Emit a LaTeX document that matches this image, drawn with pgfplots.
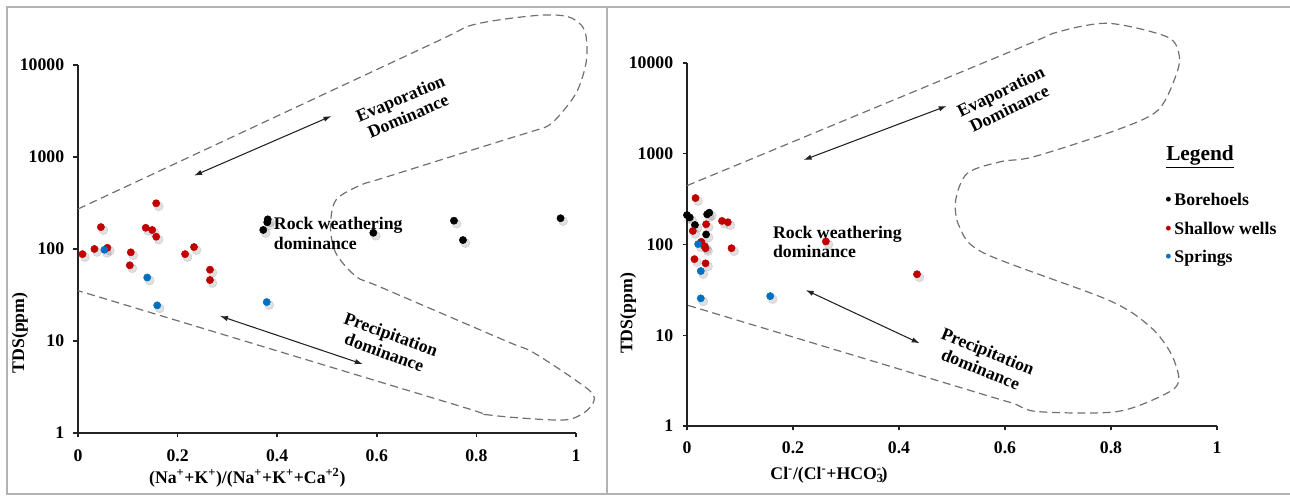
\documentclass[border=0pt]{standalone}
\usepackage{fontspec}
\setmainfont{Liberation Serif}
\usepackage{pgfplots}
\usepackage{pgfplotstable}
\pgfplotsset{compat=1.18}
\usetikzlibrary{arrows.meta}

\newlength\px
\setlength\px{0.75pt}
\newcommand\lbl{\fontsize{13.3}{14.5}\selectfont\bfseries}

\definecolor{bore}{HTML}{000000}
\definecolor{shallow}{HTML}{C00000}
\definecolor{spring}{HTML}{0070C0}
\definecolor{axisc}{HTML}{222222}
\definecolor{envc}{HTML}{707070}

% left panel: (Na+K)/(Na+K+Ca) vs TDS
\pgfplotstableread{
x y
0.372 161
0.380 195
0.381 210
0.593 150
0.755 203
0.773 125
0.969 216
}\Lbore
\pgfplotstableread{
x y
0.009 88
0.033 100
0.046 173
0.059 103
0.104 66.5
0.106 92
0.136 170
0.149 161
0.157 136
0.157 314
0.215 88
0.233 105
0.265 59.6
0.265 46
}\Lshallow
\pgfplotstableread{
x y
0.053 98
0.139 49
0.159 24.4
0.379 26.5
}\Lspring

% right panel: Cl/(Cl+HCO3) vs TDS
\pgfplotstableread{
x y
0.000 211
0.005 199
0.015 164
0.036 129
0.038 215
0.042 224
}\Rbore
\pgfplotstableread{
x y
0.016 325
0.011 141
0.036 167
0.066 182
0.077 176
0.027 107
0.033 96
0.035 91
0.084 91
0.014 69
0.035 62
0.262 108
0.434 47
}\Rshallow
\pgfplotstableread{
x y
0.021 101
0.026 51
0.026 25.5
0.157 27
}\Rspring

\tikzset{
  arr/.style={draw=axisc, line width=0.8pt,
    {Latex[length=6pt,width=4pt]}-{Latex[length=6pt,width=4pt]}},
}
\pgfplotsset{
  pts/.style={only marks, mark=*, mark size=2.7pt, color=#1},
  shad/.style={only marks, mark=*, mark size=3.4pt, color=black, opacity=0.12,
    every mark/.append style={xshift=2.5\px, yshift=-3\px}},
  env/.style={smooth, tension=0.5, color=envc, line width=0.9pt,
    dash pattern=on 6pt off 3.5pt, no markers},
}

\begin{document}
\begin{tikzpicture}
\path[use as bounding box] (0,0) rectangle (1290\px,496\px);
\draw[gray!60, line width=1.2pt] (1290\px,2\px) -- (7\px,2\px) -- (7\px,489\px) -- (1290\px,489\px);
\draw[gray!60, line width=1.2pt] (607\px,2\px) -- (607\px,489\px);

\begin{axis}[at={(78\px,63\px)}, anchor=south west,
  scale only axis, width=498\px, height=368\px,
  ymode=log, xmin=0, xmax=1, ymin=1, ymax=10000,
  clip=false,
  axis x line*=bottom, axis y line*=left,
  axis line style={axisc, line width=1.4pt},
  major tick style={axisc, line width=1.1pt},
  major tick length=4.5\px,
  tick align=outside,
  yminorticks=false,
  xtick={0,0.2,0.4,0.6,0.8,1}, xticklabels={0,0.2,0.4,0.6,0.8,1},
  ytick={1,10,100,1000,10000}, yticklabels={1,10,100,1000,10000},
  tick label style={font=\lbl, text=black},
  xticklabel style={yshift=-6pt},
  yticklabel style={xshift=-3.5pt},
  label style={font=\lbl},
  xlabel={(Na\textsuperscript{+}+K\textsuperscript{+})/(Na\textsuperscript{+}+K\textsuperscript{+}+Ca\textsuperscript{+2})},
  xlabel style={at={(axis description cs:0.340,-0.122)}, anchor=center},
  ylabel={TDS(ppm)},
  ylabel style={at={(axis description cs:-0.1165,0.272)}, anchor=center},
]
\addplot[env] coordinates {
  (0,272) (0.70,15960) (0.792,27200) (0.917,34400) (0.984,33500)
  (1.017,24000) (1.021,11300) (1.0,4920) (0.951,2320) (0.909,1880)
  (0.86,1556) (0.61,585) (0.568,497) (0.518,341) (0.507,175)
  (0.518,89.7) (0.559,50) (0.61,38.0) (0.86,9.97) (0.917,7.35)
  (1.026,2.93) (1.034,2.10) (1.009,1.57) (0.967,1.38) (0.826,1.57)
  (0.76,2.01) (0.1,24.2) (0,35.2)};
\addplot[shad] table {\Lshallow};
\addplot[shad] table {\Lspring};
\addplot[shad] table {\Lbore};
\addplot[pts=shallow] table {\Lshallow};
\addplot[pts=spring] table {\Lspring};
\addplot[pts=bore] table {\Lbore};
\draw[arr] (axis cs:0.233,627) -- (axis cs:0.509,2790);
\draw[arr] (axis cs:0.285,18.7) -- (axis cs:0.572,5.6);
\node[font=\lbl, rotate=23, align=center] at (axis cs:0.655,3490) {Evaporation\\Dominance};
\node[font=\lbl, rotate=-20, align=center] at (axis cs:0.622,9.44) {Precipitation\\dominance};
\node[font=\lbl, anchor=west, align=left, inner sep=0pt] at (axis cs:0.393,148) {Rock weathering\\dominance};
\end{axis}

\begin{axis}[at={(687\px,70\px)}, anchor=south west,
  scale only axis, width=530\px, height=363\px,
  ymode=log, xmin=0, xmax=1, ymin=1, ymax=10000,
  clip=false,
  axis x line*=bottom, axis y line*=left,
  axis line style={axisc, line width=1.4pt},
  major tick style={axisc, line width=1.1pt},
  major tick length=4.5\px,
  tick align=outside,
  yminorticks=false,
  xtick={0,0.2,0.4,0.6,0.8,1}, xticklabels={0,0.2,0.4,0.6,0.8,1},
  ytick={1,10,100,1000,10000}, yticklabels={1,10,100,1000,10000},
  tick label style={font=\lbl, text=black},
  xticklabel style={yshift=-5pt},
  yticklabel style={xshift=-3.5pt},
  label style={font=\lbl},
  xlabel={Cl\textsuperscript{-}/(Cl\textsuperscript{-}+HCO\rlap{\textsubscript{3}}\textsuperscript{-})},
  xlabel style={at={(axis description cs:0.268,-0.135)}, anchor=center},
  ylabel={TDS(ppm)},
  ylabel style={at={(axis description cs:-0.111,0.31)}, anchor=center},
]
\addplot[env] coordinates {
  (0,445) (0.62,14090) (0.698,21800) (0.795,27350) (0.905,19500)
  (0.928,12800) (0.924,7690) (0.889,3030) (0.811,1830) (0.655,929)
  (0.592,818) (0.529,610) (0.507,309) (0.514,157) (0.561,80)
  (0.795,24.4) (0.874,12.4) (0.913,6.32) (0.928,3.21) (0.905,2.29)
  (0.811,1.44) (0.662,1.44) (0.615,1.78) (0.55,2.31) (0.1,14.35) (0,21.5)};
\addplot[shad] table {\Rshallow};
\addplot[shad] table {\Rspring};
\addplot[shad] table {\Rbore};
\addplot[pts=bore] table {\Rbore};
\addplot[pts=shallow] table {\Rshallow};
\addplot[pts=spring] table {\Rspring};
\draw[arr] (axis cs:0.220,853) -- (axis cs:0.490,3357);
\draw[arr] (axis cs:0.224,31.5) -- (axis cs:0.439,8.15);
\node[font=\lbl, rotate=26, align=center] at (axis cs:0.6,3910) {Evaporation\\Dominance};
\node[font=\lbl, rotate=-22, align=center] at (axis cs:0.561,5.33) {Precipitation\\dominance};
\node[font=\lbl, anchor=west, align=left, inner sep=0pt] at (axis cs:0.162,107) {Rock weathering\\dominance};
\node[font=\fontsize{16}{18}\selectfont\bfseries] at (axis description cs:0.968,0.742) {\underline{Legend}};
\node[font=\lbl, anchor=west, inner sep=0pt] at (axis description cs:0.902,0.623) {\textcolor{bore}{\textbullet}\,Borehoels};
\node[font=\lbl, anchor=west, inner sep=0pt] at (axis description cs:0.902,0.543) {\textcolor{shallow}{\textbullet}\,Shallow wells};
\node[font=\lbl, anchor=west, inner sep=0pt] at (axis description cs:0.902,0.463) {\textcolor{spring}{\textbullet}\,Springs};
\end{axis}
\end{tikzpicture}
\end{document}
